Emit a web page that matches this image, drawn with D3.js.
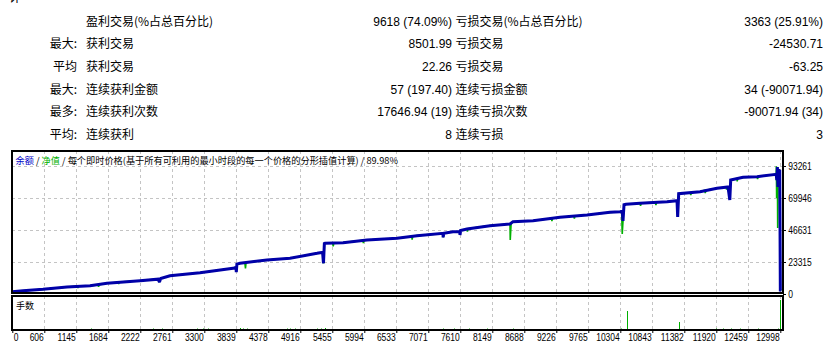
<!DOCTYPE html>
<html><head><meta charset="utf-8">
<script src="https://cdn.jsdelivr.net/npm/d3@7"></script>
<style>
html,body{margin:0;padding:0;background:#fff;}
svg{display:block;}
</style></head><body>
<svg id="c" width="827" height="351"></svg>
<script>
// ---------- data ----------
const rowPrefix = ["", "最大:", "平均", "最大:", "最多:", "平均:"];
const winLabels = ["盈利交易(%占总百分比)", "获利交易", "获利交易", "连续获利金额", "连续获利次数", "连续获利"];
const winValues = ["9618 (74.09%)", "8501.99", "22.26", "57 (197.40)", "17646.94 (19)", "8"];
const lossLabels = ["亏损交易(%占总百分比)", "亏损交易", "亏损交易", "连续亏损金额", "连续亏损次数", "连续亏损"];
const lossValues = ["3363 (25.91%)", "-24530.71", "-63.25", "34 (-90071.94)", "-90071.94 (34)", "3"];

const yTicks = [0, 23315, 46631, 69946, 93261];
const xTickLabels = ["0","606","1145","1684","2222","2761","3300","3839","4378","4916","5455","5994","6533","7071","7610","8149","8688","9226","9765","10304","10843","11382","11920","12459","12998"];

// [trade #, balance]
const balance = [[0,1700],[181,2400],[519,3400],[925,5100],[1315,6050],[1602,7800],[2161,9700],[2465,10800],[2490,8700],[2510,11300],[2668,13300],[3176,15500],[3734,18700],[3785,19500],[3790,16000],[3800,21800],[3853,22400],[4309,24800],[4699,26000],[5156,29650],[5206,30100],[5250,30300],[5265,22400],[5280,36800],[5291,37000],[5596,37400],[6001,39300],[6509,40600],[6847,42500],[7287,44200],[7290,41300],[7300,44300],[7457,45400],[7570,45500],[7575,43000],[7585,46300],[7693,47400],[8083,49800],[8421,51000],[8472,52700],[8810,53400],[9267,55900],[9724,57600],[10113,59500],[10282,60000],[10320,60300],[10333,53200],[10350,65000],[10384,65400],[10621,66100],[11078,67200],[11247,68000],[11258,56100],[11275,73100],[11636,74500],[11924,77000],[12110,78000],[12140,68500],[12155,83100],[12364,85000],[12601,85500],[12925,87200],[12935,83000],[12945,92500],[12955,78000],[12965,91000],[12975,80000],[12985,90500],[12995,2900],[13015,2900]];

// [trade #, equity]
const equity = [[0,1700],[100,1300],[110,2100],[181,2400],[519,3400],[925,5100],[1100,5700],[1110,4300],[1120,5800],[1315,6050],[1450,6600],[1460,5200],[1470,6800],[1602,7800],[1790,8500],[1800,7300],[1810,8700],[2161,9700],[2465,10800],[2490,8700],[2510,11300],[2668,13300],[3176,15500],[3734,18700],[3785,19500],[3790,16000],[3800,21800],[3853,22400],[3935,22800],[3945,18700],[3955,22900],[4309,24800],[4699,26000],[5156,29650],[5206,30100],[5250,30300],[5265,22400],[5275,24000],[5280,36800],[5291,37000],[5420,37200],[5430,34700],[5440,37300],[5596,37400],[5930,39000],[5940,37100],[5950,39100],[6001,39300],[6509,40600],[6760,42000],[6765,39600],[6775,42100],[6847,42500],[7287,44200],[7290,41300],[7300,44300],[7457,45400],[7570,45500],[7575,43000],[7585,46300],[7693,47400],[7700,45500],[7710,47500],[8083,49800],[8421,51000],[8425,39300],[8440,51500],[8472,52700],[8810,53400],[9125,55000],[9130,53100],[9140,55100],[9267,55900],[9500,56800],[9510,55000],[9520,56900],[9724,57600],[10113,59500],[10282,60000],[10310,60200],[10320,43700],[10333,53200],[10350,65000],[10384,65400],[10621,66100],[10630,64200],[10640,66200],[10880,66700],[10890,64800],[10900,66800],[11078,67200],[11247,68000],[11258,56100],[11275,73100],[11470,73900],[11480,72000],[11490,74000],[11636,74500],[11715,75500],[11725,73500],[11735,75600],[11924,77000],[12080,77800],[12085,76000],[12095,77900],[12110,78000],[12140,68500],[12155,83100],[12260,84200],[12265,82000],[12275,84300],[12364,85000],[12601,85500],[12610,83800],[12620,85600],[12925,87200],[12928,93000],[12932,69900],[12935,83000],[12945,92500],[12950,48100],[12955,78000],[12965,91000],[12975,80000],[12985,90500],[12995,2900],[13015,2900]];

// [trade #, lots]
const lots = [[1333,0.15],[2381,0.15],[2533,0.15],[3125,0.15],[3227,0.15],[3311,0.15],[3853,0.2],[3905,0.15],[3971,0.15],[4648,0.15],[4699,0.15],[4783,0.15],[5156,0.15],[5223,0.15],[5291,0.2],[7288,0.15],[7474,0.15],[7728,0.15],[8032,0.15],[8472,0.15],[10294,0.15],[10396,1.9],[11286,0.8],[11907,0.15],[12025,0.15],[12156,0.15],[12313,0.15],[12612,0.15],[12956,0.15],[12995,3.0]];

// ---------- layout ----------
const svg = d3.select("#c");
const L = 12, R = 783, T = 151, B = 293, LT = 296, LB = 330;
const latin = "'Liberation Sans', 'Noto Sans CJK SC', sans-serif";
const cjk = "'Noto Sans CJK SC', 'Liberation Sans', sans-serif";
const squeeze = 0.81; // horizontal squeeze for the narrow axis digits

// cut-off header glyph at the very top (as in the reference)
svg.append("text").attr("x", 9).attr("y", 1.5).attr("font-family", cjk).attr("font-size", 12).attr("fill", "#000").text("计");

// ---------- stats table ----------
const rowY = d3.scaleLinear().domain([0, 5]).range([25.5, 139]);
const tbl = svg.append("g").attr("fill", "#000");
rowPrefix.forEach((t, i) => {
  tbl.append("text").attr("x", 77).attr("y", rowY(i)).attr("text-anchor", "end")
    .attr("font-family", cjk).attr("font-size", 12).text(t);
});
winLabels.forEach((t, i) => {
  tbl.append("text").attr("x", 86).attr("y", rowY(i))
    .attr("font-family", cjk).attr("font-size", 12).text(t);
});
winValues.forEach((t, i) => {
  tbl.append("text").attr("x", 452).attr("y", rowY(i)).attr("text-anchor", "end")
    .attr("font-family", latin).attr("font-size", 12).text(t);
});
lossLabels.forEach((t, i) => {
  tbl.append("text").attr("x", 455.5).attr("y", rowY(i))
    .attr("font-family", cjk).attr("font-size", 12).text(t);
});
lossValues.forEach((t, i) => {
  tbl.append("text").attr("x", 823).attr("y", rowY(i)).attr("text-anchor", "end")
    .attr("font-family", latin).attr("font-size", 12).text(t);
});

// ---------- scales ----------
const xData = d3.scaleLinear().domain([0, 13040]).range([12.3, 783]);
const xAxisScale = d3.scalePoint().domain(xTickLabels).range([12.3, 780.3]);
const y = d3.scaleLinear().domain([0, 104190]).range([294, T]);
const yLots = d3.scaleLinear().domain([0, 3.4]).range([LB, LT]);

// ---------- grid ----------
const grid = svg.append("g").attr("stroke", "#c4c4c4").attr("stroke-width", 1).attr("stroke-dasharray", "3,3");
xTickLabels.slice(1).forEach(l => {
  const gx = Math.round(xAxisScale(l)) + 0.5;
  grid.append("line").attr("x1", gx).attr("x2", gx).attr("y1", T).attr("y2", B);
  grid.append("line").attr("x1", gx).attr("x2", gx).attr("y1", LT).attr("y2", LB);
});
yTicks.slice(1).forEach(v => {
  const gy = Math.round(y(v)) + 0.5;
  grid.append("line").attr("x1", L).attr("x2", R).attr("y1", gy).attr("y2", gy);
});

// ---------- title ----------
const title = svg.append("text").attr("x", 15.5).attr("y", 164).attr("font-family", cjk).attr("font-size", 9.2);
title.append("tspan").attr("fill", "#0000c8").text("余额");
title.append("tspan").attr("fill", "#000").text(" / ");
title.append("tspan").attr("fill", "#00b000").text("净值");
title.append("tspan").attr("fill", "#000").text(" / 每个即时价格(基于所有可利用的最小时段的每一个价格的分形插值计算) / 89.98%");

// ---------- lines ----------
svg.append("clipPath").attr("id", "clipMain").append("rect").attr("x", L).attr("y", T).attr("width", R - L).attr("height", B - T);
const plot = svg.append("g").attr("clip-path", "url(#clipMain)");
const line = d3.line().x(d => xData(d[0])).y(d => y(d[1]));
plot.append("path").datum(equity).attr("d", line).attr("fill", "none")
  .attr("stroke", "#00b000").attr("stroke-width", 1.6).attr("stroke-linejoin", "miter").attr("stroke-miterlimit", 2);
plot.append("path").datum(balance).attr("d", line).attr("fill", "none")
  .attr("stroke", "#0000a8").attr("stroke-width", 3).attr("stroke-linejoin", "miter").attr("stroke-miterlimit", 2);

// ---------- lots panel ----------
svg.append("text").attr("x", 16).attr("y", 309).attr("font-family", cjk).attr("font-size", 9).attr("fill", "#000").text("手数");
svg.append("g").selectAll("line").data(lots).join("line")
  .attr("x1", d => Math.round(xData(d[0])) + 0.5).attr("x2", d => Math.round(xData(d[0])) + 0.5)
  .attr("y1", yLots(0)).attr("y2", d => yLots(d[1]))
  .attr("stroke", "#00b000").attr("stroke-width", 1);

// ---------- frames ----------
svg.append("rect").attr("x", L).attr("y", T).attr("width", R - L).attr("height", B - T)
  .attr("fill", "none").attr("stroke", "#000").attr("stroke-width", 2);
svg.append("rect").attr("x", L).attr("y", LT).attr("width", R - L).attr("height", LB - LT)
  .attr("fill", "none").attr("stroke", "#000").attr("stroke-width", 2);

// ---------- axes ----------
const yAxis = svg.append("g").attr("transform", `translate(${R},0)`)
  .call(d3.axisRight(y).tickValues(yTicks).tickSize(3).tickPadding(2).tickFormat(d3.format("d")));
yAxis.select(".domain").remove();
yAxis.selectAll("line").attr("stroke", "#000");
yAxis.selectAll("text").attr("font-family", latin).attr("font-size", 10.5).attr("fill", "#000")
  .attr("x", 5.2 / squeeze).attr("transform", `scale(${squeeze},1)`);

const xAxis = svg.append("g").attr("transform", `translate(0,${LB})`)
  .call(d3.axisBottom(xAxisScale).tickSize(3).tickPadding(1));
xAxis.select(".domain").remove();
xAxis.selectAll("line").attr("stroke", "#000");
xAxis.selectAll("text").attr("font-family", latin).attr("font-size", 10.5).attr("fill", "#000")
  .attr("text-anchor", (d, i) => i === 0 ? "start" : "end")
  .attr("x", (d, i) => (i === 0 ? 1 : -1) / squeeze)
  .attr("transform", `scale(${squeeze},1)`);
</script>
</body></html>
